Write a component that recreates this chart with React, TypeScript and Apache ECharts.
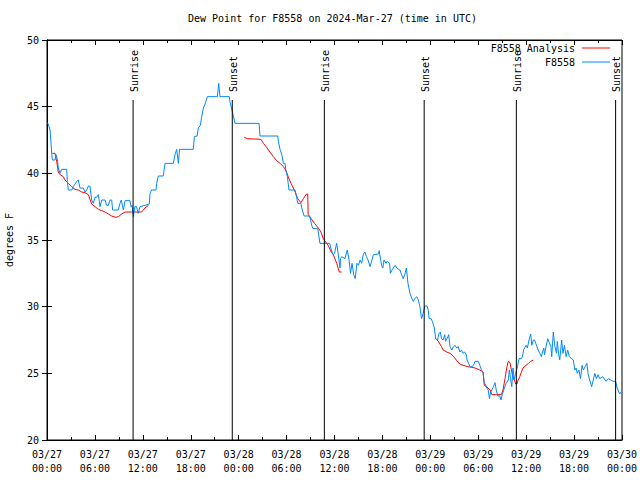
import React, { useEffect, useRef } from "react";
import * as echarts from "echarts";

// hours since 2024-03-27 00:00 UTC
const blueHours = [
  0.0, 0.16, 0.38, 0.58, 0.67, 1.0, 1.13, 1.3, 1.42, 1.63, 1.84, 2.46, 2.55, 2.67, 3.09, 3.3, 3.72, 3.92, 4.13, 4.55,
  4.76, 4.97, 5.18, 5.38, 5.59, 5.8, 6.01, 6.2, 6.43, 6.64, 6.85, 7.27, 7.47, 7.68, 7.89, 8.1, 8.22, 8.5, 8.93, 9.14,
  9.3, 9.56, 9.77, 10.39, 10.52, 10.65, 10.81, 11.0, 11.2, 11.43, 11.64, 12.27, 12.81, 12.9, 13.1, 13.65, 13.73, 13.94, 14.56, 14.78,
  15.82, 16.03, 16.24, 16.45, 16.6, 18.32, 18.45, 18.8, 18.95, 19.2, 19.37, 19.58, 19.8, 20.08, 21.33, 21.5, 21.66, 22.83, 22.9, 23.1,
  23.3, 23.54, 26.55, 26.67, 28.9, 28.97, 29.18, 29.4, 29.6, 29.8, 29.9, 30.1, 30.3, 31.05, 31.26, 31.4, 31.8, 31.9, 32.2, 32.9,
  33.14, 33.3, 33.9, 33.97, 34.18, 35.4, 35.6, 35.8, 36.0, 36.27, 36.45, 36.7, 36.75, 36.9, 37.3, 37.6, 37.85, 38.0, 38.2, 38.4,
  38.6, 38.8, 39.0, 39.2, 39.4, 39.6, 39.8, 40.0, 40.2, 40.45, 40.65, 40.86, 41.5, 41.6, 41.7, 41.9, 42.05, 42.2, 42.45, 42.6,
  42.9, 43.0, 43.25, 43.6, 43.8, 44.0, 44.2, 44.4, 44.6, 44.8, 45.0, 45.2, 45.45, 45.7, 45.86, 46.05, 46.3, 46.5, 46.7, 46.9,
  47.1, 47.3, 47.6, 47.75, 47.85, 48.1, 48.25, 48.5, 48.67, 48.9, 49.1, 49.25, 49.4, 49.6, 49.8, 49.9, 50.2, 50.3, 50.46, 50.7,
  50.9, 51.1, 51.3, 51.5, 51.7, 51.9, 52.1, 52.3, 52.5, 52.6, 52.97, 53.2, 53.4, 53.6, 54.0, 54.2, 54.4, 54.6, 54.76, 54.9,
  55.06, 55.25, 55.4, 55.55, 55.7, 55.9, 56.1, 56.25, 56.44, 56.7, 56.85, 57.0, 57.27, 57.5, 57.76, 57.9, 58.05, 58.2, 58.35, 58.5,
  58.65, 58.8, 58.95, 59.1, 59.4, 59.55, 59.7, 60.0, 60.15, 60.36, 60.57, 60.7, 60.9, 61.05, 61.2, 61.5, 61.7, 61.9, 62.05, 62.2,
  62.3, 62.45, 62.7, 62.9, 63.1, 63.2, 63.4, 63.6, 63.8, 63.9, 64.05, 64.2, 64.45, 64.6, 64.8, 65.0, 65.2, 65.4, 65.7, 65.9,
  66.1, 66.25, 66.4, 66.6, 66.8, 67.0, 67.15, 67.3, 67.6, 67.75, 67.9, 68.2, 68.4, 68.6, 68.8, 69.0, 69.2, 69.6, 70.0, 70.3,
  70.6, 70.9, 71.2, 71.4, 71.7, 71.9,
];
const blueValues = [
  43.8, 43.7, 43.25, 41.6, 41.0, 41.0, 41.4, 41.0, 40.4, 40.0, 40.3, 40.3, 39.4, 38.75, 38.75, 39.0, 39.4, 39.5, 38.9, 38.9,
  38.6, 38.75, 39.05, 39.05, 38.0, 37.75, 38.2, 38.2, 38.4, 37.5, 38.0, 38.0, 37.6, 37.6, 38.0, 38.0, 37.25, 37.25, 37.25, 37.75,
  38.0, 37.25, 37.95, 37.95, 37.5, 37.6, 36.75, 37.5, 37.5, 37.0, 37.5, 37.6, 37.7, 38.5, 38.75, 38.75, 39.25, 39.8, 39.8, 40.75,
  40.75, 41.4, 41.8, 40.75, 41.8, 41.8, 42.75, 42.8, 43.4, 43.6, 44.25, 44.9, 45.2, 45.75, 45.75, 46.75, 45.75, 45.75, 45.4, 44.9,
  44.4, 43.75, 43.75, 42.8, 42.8, 42.4, 41.8, 41.4, 40.75, 40.75, 40.25, 39.75, 38.75, 38.75, 38.2, 37.75, 37.75, 37.4, 36.8, 36.8,
  36.1, 35.85, 35.85, 35.6, 34.75, 34.75, 34.25, 33.9, 34.0, 34.75, 34.0, 32.9, 33.6, 33.75, 33.6, 34.25, 33.4, 32.5, 33.25, 32.4,
  32.1, 33.25, 33.1, 33.5, 33.25, 33.9, 34.1, 33.75, 33.5, 33.0, 33.4, 33.9, 33.95, 34.2, 33.8, 33.1, 32.9, 33.5, 33.25, 33.4,
  33.25, 32.5, 32.8, 33.1, 32.9, 32.8, 32.75, 32.4, 32.1, 32.4, 32.9, 31.75, 31.0, 30.6, 30.4, 30.6, 30.75, 30.5, 30.0, 29.1,
  29.5, 30.05, 30.05, 29.7, 29.1, 29.1, 28.9, 28.4, 27.6, 27.5, 28.0, 28.1, 27.6, 27.5, 27.9, 27.4, 27.75, 27.9, 27.0, 26.75,
  27.0, 27.1, 26.9, 27.0, 26.6, 26.75, 26.5, 26.6, 26.4, 26.0, 25.5, 25.5, 25.6, 25.9, 25.9, 25.6, 25.25, 25.1, 24.25, 24.2,
  23.9, 23.75, 23.1, 23.6, 23.75, 24.0, 24.3, 23.75, 23.3, 23.3, 23.0, 23.4, 23.9, 24.25, 24.5, 25.25, 24.6, 24.0, 25.4, 24.5,
  24.9, 25.25, 25.6, 26.1, 26.1, 26.3, 26.8, 27.1, 26.9, 27.5, 27.95, 27.1, 27.5, 27.5, 27.25, 26.75, 26.5, 26.25, 26.6, 26.9,
  26.4, 26.9, 27.6, 27.3, 27.0, 26.25, 28.1, 27.0, 26.5, 27.4, 26.5, 26.0, 27.5, 26.5, 27.1, 26.25, 26.75, 26.25, 26.1, 26.0,
  25.25, 25.4, 25.0, 25.25, 24.6, 25.6, 25.25, 25.4, 25.75, 25.0, 24.6, 24.0, 24.5, 25.0, 24.6, 24.9, 24.6, 24.75, 24.4, 24.6,
  24.5, 24.4, 24.4, 23.9, 23.45, 23.6,
];

const redHours = [
  0.67, 1.0, 1.21, 1.42, 1.63, 2.05, 2.25, 2.67, 3.09, 3.5, 3.92, 4.34, 4.76, 5.18, 5.59, 6.01, 6.43, 6.85, 7.27, 7.68,
  8.1, 8.6, 8.93, 9.35, 9.77, 10.6, 11.43, 11.85, 12.27, 12.69, 13.0,
  24.7, 25.1, 26.8, 27.1, 27.5, 27.9, 28.34, 28.75, 29.2, 29.6, 29.9, 30.2, 30.55, 30.97, 31.4, 31.8, 32.1, 32.5, 32.65, 32.7,
  33.2, 33.5, 33.97, 34.3, 34.6, 34.9, 35.2, 35.6, 35.85, 36.28, 36.6, 36.9, 37.5,
  48.67, 49.0, 49.4, 49.6, 50.05, 50.46, 50.87, 51.3, 51.7, 52.1, 52.7, 53.2, 53.6, 54.2, 54.6, 54.76, 55.0, 55.5, 55.7, 56.3,
  56.9, 57.1, 57.35, 57.56, 57.76, 57.97, 58.1, 58.27, 58.5, 58.7, 58.85, 59.0, 59.2, 59.4, 59.6, 59.98, 60.3, 60.57, 60.9,
];
const redValues = [
  41.5, 41.5, 40.9, 40.1, 39.9, 39.75, 39.5, 39.25, 39.0, 38.8, 38.75, 38.6, 38.55, 38.4, 37.7, 37.5, 37.3, 37.2, 37.1, 36.95,
  36.8, 36.7, 36.75, 36.95, 37.1, 37.1, 37.1, 37.1, 37.4, 37.6, null,
  42.7, 42.6, 42.55, 42.25, 41.95, 41.6, 41.25, 40.95, 40.75, 40.5, 40.25, 39.75, 39.25, 38.75, 38.1, 37.8, 38.1, 38.45, 38.45, 36.9,
  36.5, 36.25, 35.9, 35.6, 35.1, 34.85, 34.6, 34.1, 33.9, 33.25, 32.6, 32.6, null,
  27.6, 27.4, 27.0, 26.75, 26.6, 26.5, 26.3, 25.95, 25.7, 25.6, 25.5, 25.45, 25.4, 25.25, 25.1, 24.1, 24.0, 23.75, 23.4, 23.4,
  23.4, 23.75, 24.6, 25.4, 25.9, 25.8, 25.4, 24.9, 24.5, 24.2, 24.2, 24.5, 24.75, 25.1, 25.4, 25.6, 25.75, 25.9, 26.0,
];

const sunHours = [10.78, 23.2, 34.73, 47.23, 58.77, 71.2];
const sunLabels = ["Sunrise", "Sunset", "Sunrise", "Sunset", "Sunrise", "Sunset"];
const sunLineTop = 45.5;

const xMin = 0;
const xMax = 72;
const xStep = 6;
const yMin = 20;
const yMax = 50;
const yStep = 5;

const FONT = '"DejaVu Sans Mono", "Liberation Mono", monospace';

function pad(n: number) {
  return n < 10 ? "0" + n : "" + n;
}
function fmtHour(h: number) {
  const dayOff = Math.floor(h / 24 + 1e-9);
  const hr = Math.round(h - dayOff * 24);
  return `03/${27 + dayOff}\n${pad(hr)}:00`;
}

export default function App() {
  const ref = useRef<HTMLDivElement>(null);
  useEffect(() => {
    if (!ref.current) return;
    const chart = echarts.init(ref.current, undefined, { renderer: "svg" });
    const blueData = blueHours.map((h, i) => [h, blueValues[i]]);
    const redData = redHours.map((h, i) => [h, redValues[i] === null ? "-" : redValues[i]]);
    const axisLineStyle = { show: true, lineStyle: { color: "#000", width: 1 } };
    const option: any = {
      animation: false,
      backgroundColor: "#fff",
      title: {
        text: "Dew Point for F8558 on 2024-Mar-27 (time in UTC)",
        left: 188,
        top: 13,
        padding: 0,
        textStyle: { fontFamily: FONT, fontSize: 10, fontWeight: "normal", color: "#000" },
      },
      grid: {
        left: 47,
        right: 18,
        top: 40,
        bottom: 40,
        show: true,
        borderColor: "#000",
        borderWidth: 1,
        containLabel: false,
        outerBoundsMode: "none",
      },
      legend: [
        {
          data: ["F8558 Analysis"],
          right: 30,
          top: 43,
          orient: "vertical",
          align: "right",
          icon: "rect",
          itemWidth: 28,
          itemHeight: 1,
          padding: 0,
          selectedMode: false,
          textStyle: { fontFamily: FONT, fontSize: 10, color: "#000", padding: [0, 2, 0, 0] },
        },
        {
          data: ["F8558"],
          right: 30,
          top: 57,
          orient: "vertical",
          align: "right",
          icon: "rect",
          itemWidth: 28,
          itemHeight: 1,
          padding: 0,
          selectedMode: false,
          textStyle: { fontFamily: FONT, fontSize: 10, color: "#000", padding: [0, 2, 0, 0] },
        },
      ],
      xAxis: [
        {
          type: "value",
          min: xMin,
          max: xMax,
          interval: xStep,
          axisLine: axisLineStyle,
          axisTick: { show: true, inside: true, length: 5, lineStyle: { color: "#000" } },
          minorTick: { show: true, splitNumber: 2, length: 3, lineStyle: { color: "#000" } },
          splitLine: { show: false },
          axisLabel: {
            formatter: (v: number) => fmtHour(v),
            fontFamily: FONT,
            fontSize: 10,
            color: "#000",
            lineHeight: 14,
            margin: 7,
          },
        },
        {
          type: "value",
          position: "top",
          min: xMin,
          max: xMax,
          interval: xStep,
          axisLine: axisLineStyle,
          axisTick: { show: true, inside: true, length: 5, lineStyle: { color: "#000" } },
          minorTick: { show: true, splitNumber: 2, length: 3, lineStyle: { color: "#000" } },
          splitLine: { show: false },
          axisLabel: { show: false },
        },
      ],
      yAxis: [
        {
          type: "value",
          min: yMin,
          max: yMax,
          interval: yStep,
          name: "degrees F",
          nameLocation: "middle",
          nameGap: 33,
          nameRotate: 90,
          nameTextStyle: { fontFamily: FONT, fontSize: 10, color: "#000" },
          axisLine: axisLineStyle,
          axisTick: { show: true, inside: true, length: 5, lineStyle: { color: "#000" } },
          splitLine: { show: false },
          axisLabel: { fontFamily: FONT, fontSize: 10, color: "#000", margin: 8 },
        },
        {
          type: "value",
          position: "right",
          min: yMin,
          max: yMax,
          interval: yStep,
          axisLine: axisLineStyle,
          axisTick: { show: true, inside: true, length: 5, lineStyle: { color: "#000" } },
          splitLine: { show: false },
          axisLabel: { show: false },
        },
      ],
      series: [
        {
          name: "F8558 Analysis",
          type: "line",
          xAxisIndex: 0,
          yAxisIndex: 0,
          data: redData,
          showSymbol: false,
          symbol: "none",
          connectNulls: false,
          color: "#ff0000",
          lineStyle: { color: "#ff0000", width: 1 },
          z: 2,
        },
        {
          name: "F8558",
          type: "line",
          xAxisIndex: 0,
          yAxisIndex: 0,
          data: blueData,
          showSymbol: false,
          symbol: "none",
          color: "#0088ff",
          lineStyle: { color: "#0088ff", width: 1 },
          z: 3,
        },
        {
          name: "sun",
          type: "custom",
          xAxisIndex: 0,
          yAxisIndex: 0,
          data: sunHours.map((h) => [h, yMin]),
          encode: { x: 0, y: 1 },
          clip: false,
          silent: true,
          z: 4,
          renderItem: (params: any, api: any) => {
            const h = api.value(0);
            const bottom = api.coord([h, yMin]);
            const top = api.coord([h, sunLineTop]);
            const label = sunLabels[params.dataIndex];
            return {
              type: "group",
              children: [
                {
                  type: "line",
                  shape: { x1: bottom[0], y1: bottom[1], x2: top[0], y2: top[1] },
                  style: { stroke: "#000", lineWidth: 1 },
                },
                {
                  type: "text",
                  x: top[0] + 1,
                  y: top[1] - 8,
                  rotation: Math.PI / 2,
                  style: {
                    text: label,
                    font: `10px ${FONT}`,
                    fill: "#000",
                    align: "left",
                    verticalAlign: "middle",
                  },
                },
              ],
            };
          },
        },
      ],
    };
    chart.setOption(option);
    return () => {
      chart.dispose();
    };
  }, []);
  return (
    <div
      ref={ref}
      style={{ position: "fixed", left: 0, top: 0, width: 640, height: 480, background: "#fff" }}
    />
  );
}
